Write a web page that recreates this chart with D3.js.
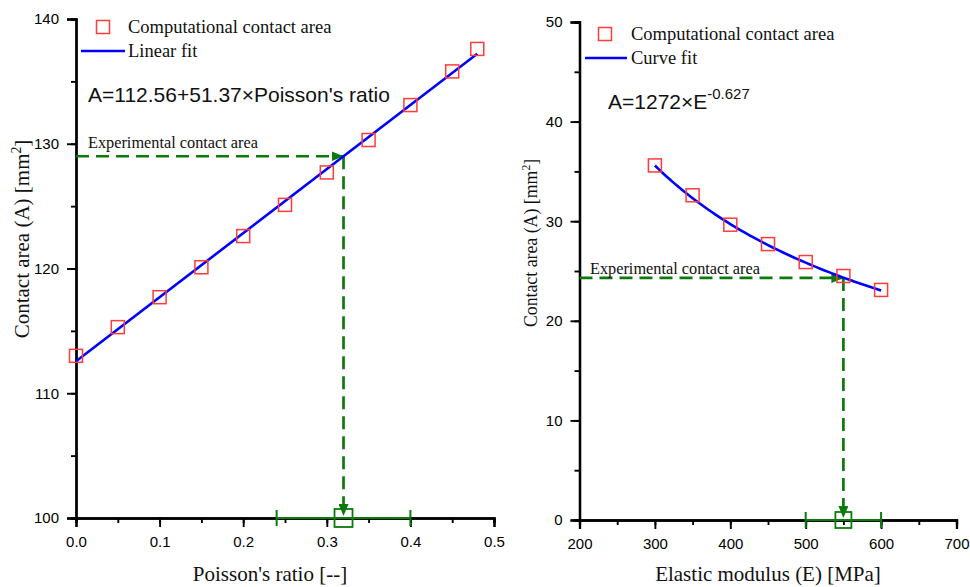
<!DOCTYPE html>
<html>
<head>
<meta charset="utf-8">
<script src="https://cdn.jsdelivr.net/npm/d3@7"></script>
<style>
  html, body { margin: 0; padding: 0; background: #fff; }
  svg { display: block; }
</style>
</head>
<body>
<svg id="chart" width="970" height="587"></svg>
<script>
// Panel (a): contact area vs Poisson's ratio
const poissonRatio = [0.00, 0.05, 0.10, 0.15, 0.20, 0.25, 0.30, 0.35, 0.40, 0.45, 0.48];
const areaByPoisson = [113.0, 115.3, 117.7, 120.1, 122.6, 125.1, 127.7, 130.3, 133.1, 135.8, 137.6];
const linearFit = { intercept: 112.56, slope: 51.37 };
const poissonExp = { value: 0.32, low: 0.24, high: 0.40, area: 129.0 };
const poissonXTicks = [0.0, 0.1, 0.2, 0.3, 0.4, 0.5];
const poissonYTicks = [100, 110, 120, 130, 140];

// Panel (b): contact area vs elastic modulus
const elasticModulus = [300, 350, 400, 450, 500, 550, 600];
const areaByModulus = [35.6, 32.6, 29.65, 27.7, 25.9, 24.5, 23.1];
const powerFit = { coef: 1272, exponent: -0.627 };
const modulusExp = { value: 550, low: 500, high: 600, area: 24.3 };
const modulusXTicks = [200, 300, 400, 500, 600, 700];
const modulusYTicks = [0, 10, 20, 30, 40, 50];

const GREEN = "#0b7a0b";
const RED = "#ff3b3b";
const BLUE = "#0000ff";
const SERIF = "'Liberation Serif', 'Times New Roman', serif";
const SANS = "'Liberation Sans', Arial, sans-serif";

const svg = d3.select("#chart");

const defs = svg.append("defs");
defs.append("marker")
  .attr("id", "arrow")
  .attr("viewBox", "0 0 12 10")
  .attr("refX", 12).attr("refY", 5)
  .attr("markerWidth", 12).attr("markerHeight", 10)
  .attr("markerUnits", "userSpaceOnUse")
  .attr("orient", "auto")
  .append("path")
  .attr("d", "M0,0 L12,5 L0,10 Z")
  .attr("fill", GREEN);

function drawPanel(cfg) {
  const g = svg.append("g");
  const x = d3.scaleLinear().domain(cfg.xDomain).range(cfg.xRange);
  const y = d3.scaleLinear().domain(cfg.yDomain).range(cfg.yRange);

  const minorX = d3.range(cfg.xDomain[0], cfg.xDomain[1] + 1e-9, cfg.xMinorStep);
  const minorY = d3.range(cfg.yDomain[0], cfg.yDomain[1] + 1e-9, cfg.yMinorStep);

  // minor ticks
  const xMinorAxis = d3.axisBottom(x).tickValues(minorX).tickSize(5).tickFormat("");
  const yMinorAxis = d3.axisLeft(y).tickValues(minorY).tickSize(5).tickFormat("");
  // major ticks
  const xAxis = d3.axisBottom(x).tickValues(cfg.xTicks).tickSize(9).tickPadding(9)
    .tickFormat(cfg.xFormat);
  const yAxis = d3.axisLeft(y).tickValues(cfg.yTicks).tickSize(9).tickPadding(8)
    .tickFormat(d3.format("d"));

  const styleAxis = sel => {
    sel.select(".domain").attr("stroke", "#000").attr("stroke-width", 2.3);
    sel.selectAll(".tick line").attr("stroke", "#000").attr("stroke-width", 1.9);
    sel.selectAll(".tick text").attr("font-family", SANS).attr("font-size", 15)
      .attr("fill", "#000");
  };

  g.append("g").attr("transform", `translate(0,${cfg.yRange[0]})`).call(xMinorAxis).call(styleAxis);
  g.append("g").attr("transform", `translate(${cfg.xRange[0]},0)`).call(yMinorAxis).call(styleAxis);
  g.append("g").attr("transform", `translate(0,${cfg.yRange[0]})`).call(xAxis).call(styleAxis);
  g.append("g").attr("transform", `translate(${cfg.xRange[0]},0)`).call(yAxis).call(styleAxis);

  // experimental guide lines
  const ex = cfg.exp;
  g.append("line")
    .attr("x1", x(cfg.xDomain[0])).attr("y1", y(ex.area))
    .attr("x2", x(ex.value)).attr("y2", y(ex.area))
    .attr("stroke", GREEN).attr("stroke-width", 2.7)
    .attr("stroke-dasharray", "13,7")
    .attr("marker-end", "url(#arrow)");
  g.append("line")
    .attr("x1", x(ex.value)).attr("y1", y(ex.area))
    .attr("x2", x(ex.value)).attr("y2", y(cfg.yDomain[0]) - 2)
    .attr("stroke", GREEN).attr("stroke-width", 2.7)
    .attr("stroke-dasharray", "13,7")
    .attr("marker-end", "url(#arrow)");

  // horizontal range of the experimental value
  const yb = y(cfg.yDomain[0]);
  g.append("line")
    .attr("x1", x(ex.low)).attr("x2", x(ex.high))
    .attr("y1", yb).attr("y2", yb)
    .attr("stroke", GREEN).attr("stroke-width", 2);
  [ex.low, ex.high].forEach(v => {
    g.append("line")
      .attr("x1", x(v)).attr("x2", x(v))
      .attr("y1", yb - 8).attr("y2", yb + 8)
      .attr("stroke", GREEN).attr("stroke-width", 2);
  });
  g.append("rect")
    .attr("x", x(ex.value) - cfg.expSize / 2).attr("y", yb - cfg.expSize / 2)
    .attr("width", cfg.expSize).attr("height", cfg.expSize)
    .attr("fill", "none").attr("stroke", GREEN).attr("stroke-width", 1.8);

  g.append("text")
    .attr("x", cfg.expLabel[0]).attr("y", cfg.expLabel[1])
    .attr("font-family", SERIF).attr("font-size", 16.3).attr("fill", "#111")
    .text("Experimental contact area");

  // fitted curve
  const line = d3.line().x(d => x(d[0])).y(d => y(d[1]));
  g.append("path")
    .datum(cfg.fitPoints)
    .attr("d", line)
    .attr("fill", "none").attr("stroke", BLUE).attr("stroke-width", 2.6);

  // computed points
  const s = 13;
  g.selectAll(".pt").data(cfg.xs.map((v, i) => [v, cfg.ys[i]])).join("rect")
    .attr("x", d => x(d[0]) - s / 2).attr("y", d => y(d[1]) - s / 2)
    .attr("width", s).attr("height", s)
    .attr("fill", "none").attr("stroke", RED).attr("stroke-width", 1.5);

  // legend
  const lg = cfg.legend;
  g.append("rect")
    .attr("x", lg.x + lg.symX - s / 2).attr("y", lg.y - s / 2)
    .attr("width", s).attr("height", s)
    .attr("fill", "none").attr("stroke", RED).attr("stroke-width", 1.5);
  g.append("text").attr("x", lg.x + lg.textX).attr("y", lg.y + 6)
    .attr("font-family", SERIF).attr("font-size", 18.5).attr("fill", "#111")
    .text("Computational contact area");
  g.append("line")
    .attr("x1", lg.x).attr("x2", lg.x + lg.lineLen)
    .attr("y1", lg.y + 24).attr("y2", lg.y + 24)
    .attr("stroke", BLUE).attr("stroke-width", 2.6);
  g.append("text").attr("x", lg.x + lg.textX).attr("y", lg.y + 30)
    .attr("font-family", SERIF).attr("font-size", 18.5).attr("fill", "#111")
    .text(cfg.fitName);

  // axis titles
  g.append("text")
    .attr("x", cfg.xTitleX).attr("y", 581)
    .attr("text-anchor", "middle")
    .attr("font-family", SERIF).attr("font-size", 21).attr("fill", "#111")
    .text(cfg.xTitle);
  const fs = cfg.yTitleSize;
  const yt = g.append("text")
    .attr("transform", `translate(${cfg.yTitleX},${cfg.yTitleY}) rotate(-90)`)
    .attr("text-anchor", "middle")
    .attr("font-family", SERIF).attr("font-size", fs).attr("fill", "#111");
  yt.append("tspan").text("Contact area (A) [mm");
  yt.append("tspan").attr("dy", -fs * 0.38).attr("font-size", fs * 0.65).text("2");
  yt.append("tspan").attr("dy", fs * 0.38).text("]");

  return { g, x, y };
}

// Panel (a)
const fitA = [
  [poissonRatio[0], linearFit.intercept + linearFit.slope * poissonRatio[0]],
  [poissonRatio[poissonRatio.length - 1],
   linearFit.intercept + linearFit.slope * poissonRatio[poissonRatio.length - 1]]
];
const pA = drawPanel({
  xDomain: [0, 0.5], xRange: [76, 494],
  yDomain: [100, 140], yRange: [518, 19],
  xMinorStep: 0.05, yMinorStep: 5,
  xTicks: poissonXTicks, yTicks: poissonYTicks,
  xFormat: d3.format(".1f"),
  xs: poissonRatio, ys: areaByPoisson,
  fitPoints: fitA, fitName: "Linear fit",
  exp: poissonExp, expSize: 18, expLabel: [88, 148],
  legend: { x: 81, y: 27, symX: 22, textX: 47, lineLen: 44 },
  xTitle: "Poisson's ratio [--]", xTitleX: 270,
  yTitleX: 29, yTitleY: 239, yTitleSize: 21
});
pA.g.append("text")
  .attr("x", 88).attr("y", 102)
  .attr("font-family", SANS).attr("font-size", 21).attr("fill", "#111")
  .text("A=112.56+51.37\u00d7Poisson's ratio");

// Panel (b)
const fitB = d3.range(elasticModulus[0], elasticModulus[elasticModulus.length - 1] + 1e-9, 5)
  .map(e => [e, powerFit.coef * Math.pow(e, powerFit.exponent)]);
const pB = drawPanel({
  xDomain: [200, 700], xRange: [579.5, 956.5],
  yDomain: [0, 50], yRange: [520, 22],
  xMinorStep: 50, yMinorStep: 5,
  xTicks: modulusXTicks, yTicks: modulusYTicks,
  xFormat: d3.format("d"),
  xs: elasticModulus, ys: areaByModulus,
  fitPoints: fitB, fitName: "Curve fit",
  exp: modulusExp, expSize: 16, expLabel: [590, 274],
  legend: { x: 585, y: 34, symX: 20, textX: 46, lineLen: 42 },
  xTitle: "Elastic modulus (E) [MPa]", xTitleX: 768,
  yTitleX: 537, yTitleY: 243, yTitleSize: 17.8
});
const eq = pB.g.append("text")
  .attr("x", 608).attr("y", 109)
  .attr("font-family", SANS).attr("font-size", 21).attr("fill", "#111");
eq.append("tspan").text("A=1272\u00d7E");
eq.append("tspan").attr("dy", -10).attr("font-size", 15).text("-0.627");
</script>
</body>
</html>
